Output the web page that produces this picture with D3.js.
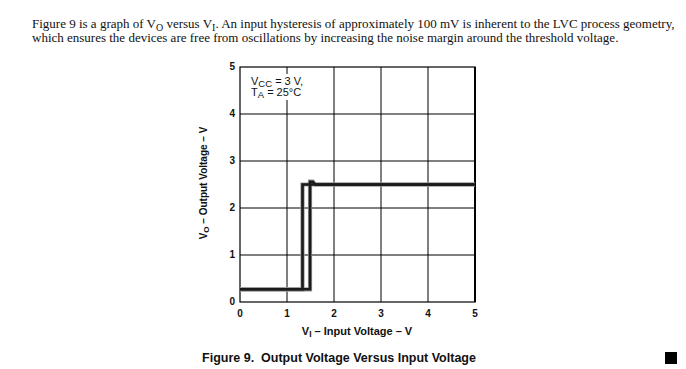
<!DOCTYPE html>
<html>
<head>
<meta charset="utf-8">
<script src="https://cdn.jsdelivr.net/npm/d3@7"></script>
<style>
body{margin:0;background:#fff;}
svg text{fill:#111;}
</style>
</head>
<body>
<svg id="fig" width="686" height="369"></svg>
<script>
// axis ticks
var xTicks=[0,1,2,3,4,5];
var yTicks=[0,1,2,3,4,5];
// rising input (switches at upper threshold)
var upVi=[0,1.49,1.49,1.55,1.6,5];
var upVo=[0.27,0.27,2.56,2.56,2.5,2.5];
// falling input (switches at lower threshold)
var downVi=[5,1.33,1.33,0];
var downVo=[2.5,2.5,0.27,0.27];

var svg=d3.select('#fig');
var pLeft=240,pTop=67,pW=235,pH=235;

var x=d3.scaleLinear().domain([0,5]).range([pLeft,pLeft+pW]);
var y=d3.scaleLinear().domain([0,5]).range([pTop+pH,pTop]);

// paragraph text
var para=svg.append('g')
    .attr('font-family','"Liberation Serif","Times New Roman",serif')
    .attr('font-size',13);
var l1=para.append('text').attr('x',32).attr('y',28);
l1.append('tspan').text('Figure 9 is a graph of V');
l1.append('tspan').attr('dy',3).attr('font-size',10).text('O');
l1.append('tspan').attr('dy',-3).text(' versus V');
l1.append('tspan').attr('dy',3).attr('font-size',10).text('I');
l1.append('tspan').attr('dy',-3).text('. An input hysteresis of approximately 100 mV is inherent to the LVC process geometry,');
para.append('text').attr('x',32).attr('y',42)
    .text('which ensures the devices are free from oscillations by increasing the noise margin around the threshold voltage.');

// grid
var g=svg.append('g');
g.selectAll('.vg').data(xTicks.slice(1,-1)).enter().append('line')
    .attr('x1',d=>x(d)).attr('x2',d=>x(d)).attr('y1',pTop).attr('y2',pTop+pH)
    .attr('stroke','#000').attr('stroke-width',1);
g.selectAll('.hg').data(yTicks.slice(1,-1)).enter().append('line')
    .attr('y1',d=>y(d)).attr('y2',d=>y(d)).attr('x1',pLeft).attr('x2',pLeft+pW)
    .attr('stroke','#000').attr('stroke-width',1);
g.append('rect').attr('x',pLeft).attr('y',pTop).attr('width',pW).attr('height',pH)
    .attr('fill','none').attr('stroke','#000').attr('stroke-width',1.2);
g.append('line').attr('x1',pLeft+pW).attr('x2',pLeft+pW).attr('y1',pTop).attr('y2',pTop+pH)
    .attr('stroke','#000').attr('stroke-width',2);

// annotation box
var ann=svg.append('g').attr('font-family','"Liberation Sans",Arial,sans-serif').attr('font-size',11);
ann.append('rect').attr('x',249).attr('y',74).attr('width',52).attr('height',26).attr('fill','#fff');
var a1=ann.append('text').attr('x',251).attr('y',85);
a1.append('tspan').text('V');
a1.append('tspan').attr('font-size',9.5).attr('dy',1.5).text('CC');
a1.append('tspan').attr('dy',-1.5).text(' = 3 V,');
var a2=ann.append('text').attr('x',251).attr('y',96);
a2.append('tspan').text('T');
a2.append('tspan').attr('font-size',9.5).attr('dy',2).text('A');
a2.append('tspan').attr('dy',-2).text(' = 25°C');

// curves
var line=d3.line().x(d=>x(d[0])).y(d=>y(d[1]));
var upPts=d3.zip(upVi,upVo);
var downPts=d3.zip(downVi,downVo);
[upPts,downPts].forEach(function(p){
    svg.append('path').attr('d',line(p)).attr('fill','none')
        .attr('stroke','#999').attr('stroke-width',4.2).attr('stroke-linejoin','miter');
});
[upPts,downPts].forEach(function(p){
    svg.append('path').attr('d',line(p)).attr('fill','none')
        .attr('stroke','#1a1a1a').attr('stroke-width',2.6).attr('stroke-linejoin','miter');
});

// tick labels
var tl=svg.append('g').attr('font-family','"Liberation Sans",Arial,sans-serif')
    .attr('font-size',10).attr('font-weight','bold');
tl.selectAll('.yl').data(yTicks).enter().append('text')
    .attr('x',pLeft-5).attr('y',d=>y(d)+3).attr('text-anchor','end').text(d=>d);
tl.selectAll('.xl').data(xTicks).enter().append('text')
    .attr('x',d=>x(d)).attr('y',pTop+pH+15).attr('text-anchor','middle').text(d=>d);

// axis titles
var xt=tl.append('text').attr('x',357).attr('y',335).attr('text-anchor','middle')
    .attr('font-size',11);
xt.append('tspan').text('V');
xt.append('tspan').attr('dy',2).attr('font-size',8.5).text('I');
xt.append('tspan').attr('dy',-2).text(' – Input Voltage – V');
var yt=tl.append('text').attr('transform','translate(207,183) rotate(-90)').attr('text-anchor','middle');
yt.append('tspan').text('V');
yt.append('tspan').attr('dy',2).attr('font-size',8).text('O');
yt.append('tspan').attr('dy',-2).text(' – Output Voltage – V');

// caption
svg.append('text').attr('x',339).attr('y',362).attr('text-anchor','middle')
    .attr('font-family','"Liberation Sans",Arial,sans-serif').attr('font-size',12.5)
    .attr('font-weight','bold').attr('xml:space','preserve')
    .text('Figure 9.  Output Voltage Versus Input Voltage');

// page marker
svg.append('rect').attr('x',665).attr('y',352).attr('width',12).attr('height',12).attr('fill','#000');
</script>
</body>
</html>
